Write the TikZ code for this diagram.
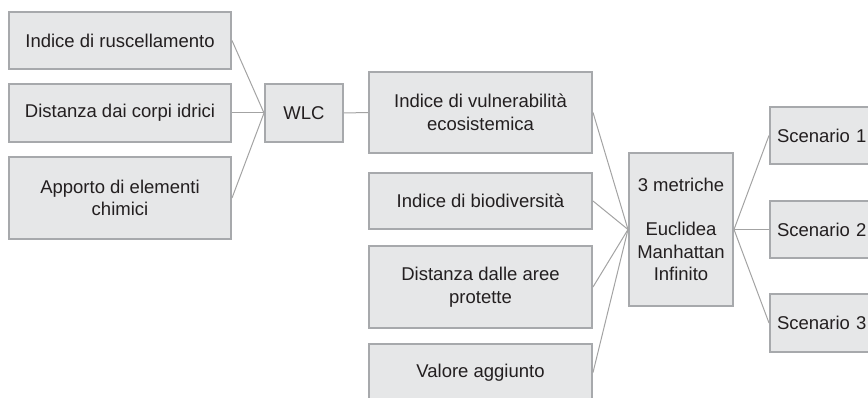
\documentclass[tikz,border=0pt]{standalone}
\usepackage{fontspec}
\setmainfont{Liberation Sans}
\usepackage{xcolor}
\usetikzlibrary{calc}
\definecolor{boxfill}{HTML}{E6E7E8}
\definecolor{boxline}{HTML}{A7A9AC}
\definecolor{linkgray}{HTML}{A3A3A3}
\definecolor{textgray}{HTML}{231F20}

\begin{document}
\begin{tikzpicture}[x=1pt, y=-1pt,
  box/.style={draw=boxline, fill=boxfill, line width=2pt, rectangle, inner sep=0pt,
    align=center, text=textgray, font=\fontsize{18.5}{22.5}\selectfont},
  link/.style={draw=linkgray, line width=1pt}]
  \useasboundingbox (0,0) rectangle (868,398);
  \clip (0,0) rectangle (868,398);
  % Inputs of the WLC
  \node[box, minimum width=222pt, minimum height=57pt] (rusc) at (120,40.5) {Indice di ruscellamento};
  \node[box, minimum width=222pt, minimum height=58pt] (idrici) at (120,113) {Distanza dai corpi idrici};
  \node[box, minimum width=222pt, minimum height=82pt] (chim) at (120,198) {Apporto di elementi\\chimici};
  \node[box, minimum width=78pt, minimum height=58pt] (wlc) at (304,113) {WLC};
  % Criteria
  \node[box, minimum width=223pt, minimum height=81pt] (vuln) at (480.5,112.5) {Indice di vulnerabilità\\ecosistemica};
  \node[box, minimum width=223pt, minimum height=56pt] (biod) at (480.5,201) {Indice di biodiversità};
  \node[box, minimum width=223pt, minimum height=82pt] (aree) at (480.5,287) {Distanza dalle aree\\protette};
  \node[box, minimum width=223pt, minimum height=57pt] (valore) at (480.5,372.5) {Valore aggiunto};
  % Metrics and scenarios
  \node[box, minimum width=104pt, minimum height=153pt] (metr) at (681,229.5) {3 metriche\\[22pt]Euclidea\\Manhattan\\Infinito};
  \node[box, minimum width=110pt, minimum height=57pt, text width=96pt, align=left] (sc1) at (825,135.5) {Scenario 1};
  \node[box, minimum width=110pt, minimum height=57pt, text width=96pt, align=left] (sc2) at (825,229.5) {Scenario 2};
  \node[box, minimum width=110pt, minimum height=58pt, text width=96pt, align=left] (sc3) at (825,323) {Scenario 3};
  % Connectors
  \draw[link] (rusc.east) -- (wlc.west);
  \draw[link] (idrici.east) -- (wlc.west);
  \draw[link] (chim.east) -- (wlc.west);
  \draw[link] (wlc.east) -- (vuln.west);
  \draw[link] (vuln.east) -- (metr.west);
  \draw[link] (biod.east) -- (metr.west);
  \draw[link] (aree.east) -- (metr.west);
  \draw[link] (valore.east) -- (metr.west);
  \draw[link] (metr.east) -- (sc1.west);
  \draw[link] (metr.east) -- (sc2.west);
  \draw[link] (metr.east) -- (sc3.west);
\end{tikzpicture}
\end{document}
